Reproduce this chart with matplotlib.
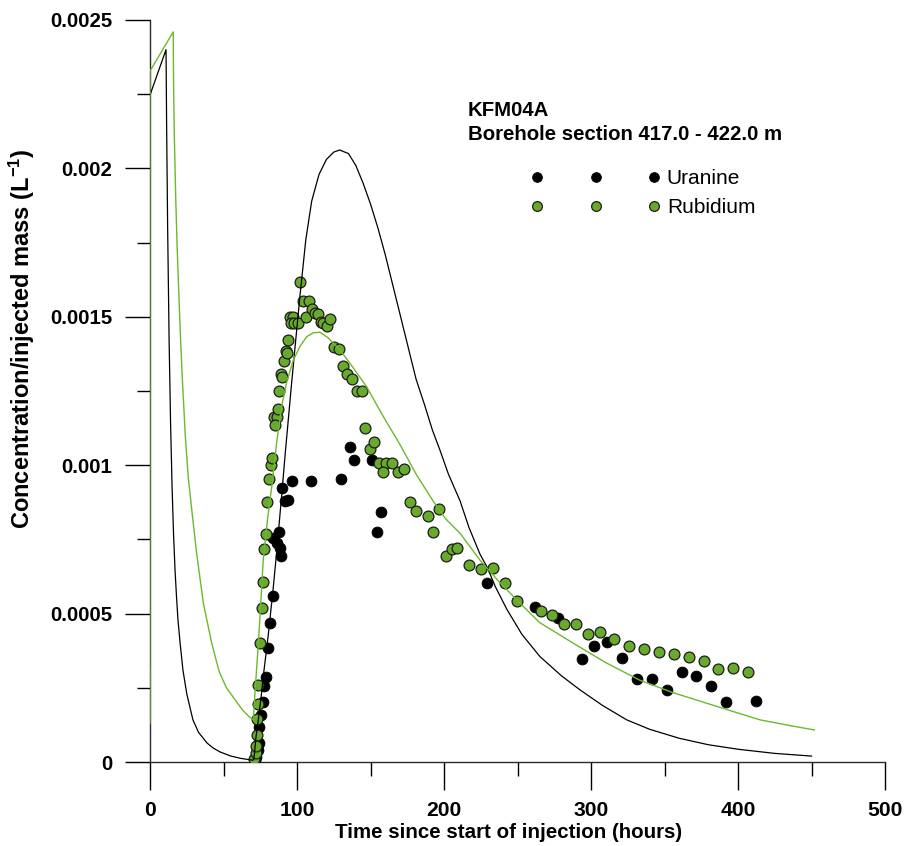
import numpy as np
import matplotlib
matplotlib.use('Agg')
import matplotlib.pyplot as plt

plt.rcParams['font.family'] = ['Liberation Sans', 'DejaVu Sans']
plt.rcParams['mathtext.fontset'] = 'custom'
plt.rcParams['mathtext.bf'] = 'Liberation Sans:bold'
plt.rcParams['mathtext.rm'] = 'Liberation Sans:bold'
plt.rcParams['mathtext.default'] = 'bf'

GREEN = '#68ab2c'
LINE_GREEN = '#6cb92e'

# model curves, time (h) and concentration (1e-3 L^-1)
t_mod_uran = [0, 0, 10.9, 11.3, 12.0, 13.0, 14.0, 15.0, 16.0, 17.0, 18.0, 19.0, 20.5,
              22.4, 25.0, 29.2, 33.0, 38.8, 43.0, 47.6, 55.0, 62.0, 70.0,
              70.7, 72.0, 73.7, 75.5, 77.1, 80.5, 83.9, 86.2, 89.6, 92.0, 96.4, 102.0,
              106.0, 110.0, 115.0, 120.0, 125.0, 129.0, 135.0, 140.0, 145.0, 150.0,
              155.0, 160.0, 165.0, 170.0, 175.0, 181.0, 187.0, 192.0, 197.3, 203.0,
              210.9, 217.0, 224.5, 229.5, 235.0, 242.7, 253.0, 265.3, 280.0, 292.5,
              308.0, 324.3, 340.0, 360.0, 380.0, 400.0, 425.0, 450.0]
c_mod_uran = [0.32, 2.247, 2.40, 2.15, 1.80, 1.42, 1.14, 0.93, 0.77, 0.65, 0.56, 0.48, 0.40,
              0.31, 0.23, 0.142, 0.10, 0.064, 0.047, 0.034, 0.020, 0.012, 0.006,
              0.010, 0.08, 0.142, 0.215, 0.29, 0.43, 0.59, 0.71, 0.90, 1.04, 1.28, 1.57,
              1.76, 1.89, 1.98, 2.03, 2.055, 2.062, 2.05, 2.01, 1.95, 1.88,
              1.80, 1.71, 1.61, 1.51, 1.41, 1.29, 1.20, 1.12, 1.05, 0.97,
              0.88, 0.79, 0.70, 0.655, 0.59, 0.515, 0.43, 0.355, 0.29, 0.243,
              0.19, 0.142, 0.11, 0.08, 0.058, 0.043, 0.029, 0.02]

t_mod_rb = [0, 0, 15.8, 16.0, 16.5, 17.5, 18.5, 19.3, 20.5, 22.0, 24.0, 26.0, 28.4,
            31.8, 36.3, 42.0, 47.1, 52.0, 57.8, 63.0, 68.0, 70.3,
            71.4, 73.7, 75.5, 77.0, 80.0, 82.8, 86.0, 89.6, 93.0, 97.5, 102.0, 106.6,
            111.0, 115.6, 121.0, 129.3, 138.0, 147.4, 158.0, 170.0, 181.0, 192.5,
            201.0, 211.0, 224.5, 237.0, 249.5, 265.0, 288.0, 310.0, 333.0, 355.0,
            378.7, 400.0, 415.0, 435.0, 452.0]
c_mod_rb = [0.13, 2.328, 2.46, 2.30, 2.12, 1.90, 1.73, 1.62, 1.46, 1.29, 1.10, 0.96, 0.85,
            0.70, 0.535, 0.40, 0.304, 0.25, 0.21, 0.175, 0.15, 0.142,
            0.231, 0.40, 0.546, 0.68, 0.82, 0.927, 1.07, 1.20, 1.28, 1.354, 1.40, 1.433,
            1.446, 1.448, 1.43, 1.388, 1.33, 1.264, 1.17, 1.07, 0.97, 0.88,
            0.82, 0.77, 0.68, 0.61, 0.546, 0.47, 0.40, 0.335, 0.276, 0.235,
            0.198, 0.165, 0.142, 0.123, 0.108]

# measured data
t_uran = [71.4, 72.1, 73.3, 74.1, 74.4, 75.5, 77.1, 77.8, 78.7, 80.5, 81.6, 83.9,
          89.1, 83.9, 86.2, 88.4, 87.8, 89.6, 91.8, 93.9, 96.9, 109.5, 129.9, 136.1,
          139.0, 151.2, 154.2, 157.1, 229.5, 261.9, 277.8, 294.1, 302.0, 311.1, 321.3,
          331.5, 341.5, 351.5, 361.7, 371.6, 381.8, 391.8, 412.0]
c_uran = [0.0067, 0.0179, 0.0404, 0.065, 0.1189, 0.1584, 0.2032, 0.2561, 0.2854, 0.3831,
          0.4693, 0.5593, 0.6941, 0.7537, 0.7369, 0.72, 0.7759, 0.9242, 0.8794, 0.8827,
          0.9468, 0.9451, 0.9525, 1.063, 1.0175, 1.0192, 0.7766, 0.8433, 0.6021, 0.5233,
          0.4842, 0.346, 0.3918, 0.4053, 0.3514, 0.2786, 0.2786, 0.2426, 0.3042, 0.2908,
          0.2571, 0.2011, 0.2065]

t_rb = [70.95, 71.9, 72.1, 72.8, 72.6, 73.3, 73.7, 74.8, 75.9, 77.1, 77.8, 78.9, 79.8,
        81.2, 82.1, 83.2, 84.4, 86.2, 85.0, 87.3, 88.0, 89.1, 90.1, 91.2, 92.3, 93.0,
        94.1, 95.2, 97.1, 95.7, 98.0, 100.5, 102.2, 104.3, 108.2, 106.1, 110.0, 112.2,
        114.5, 116.3, 117.9, 120.2, 122.4, 125.4, 128.6, 131.5, 134.2, 137.6, 140.6,
        144.0, 146.3, 149.7, 152.6, 155.8, 160.5, 164.8, 158.7, 168.9, 172.8, 176.9,
        181.0, 188.9, 192.7, 196.8, 201.2, 205.2, 209.0, 217.2, 225.2, 233.5, 241.5,
        249.5, 265.8, 273.7, 281.8, 289.8, 298.0, 306.1, 315.9, 326.1, 336.3, 346.3,
        356.7, 366.7, 376.7, 386.6, 396.8, 407.0]
c_rb = [0.0091, 0.0314, 0.0539, 0.091, 0.1439, 0.1954, 0.2594, 0.402, 0.5179, 0.6075,
        0.7167, 0.7682, 0.875, 0.9535, 1.0007, 1.0243, 1.1634, 1.1634, 1.1354, 1.1884,
        1.251, 1.3073, 1.2962, 1.3521, 1.3848, 1.377, 1.4218, 1.5003, 1.5003, 1.4781,
        1.4781, 1.4781, 1.6162, 1.5543, 1.5543, 1.5003, 1.5253, 1.5118, 1.5084, 1.4835,
        1.4781, 1.469, 1.4916, 1.3993, 1.3915, 1.3352, 1.3063, 1.2904, 1.251, 1.251,
        1.1243, 1.0546, 1.0792, 1.0084, 1.0084, 1.0084, 0.9781, 0.9761, 0.9862, 0.877,
        0.8457, 0.8288, 0.7739, 0.8524, 0.6941, 0.7177, 0.72, 0.6628, 0.6503, 0.6547,
        0.6021, 0.5425, 0.5088, 0.4953, 0.464, 0.464, 0.4313, 0.439, 0.4134, 0.3908,
        0.3817, 0.3716, 0.3629, 0.3548, 0.3393, 0.3134, 0.3177, 0.3042]

x_ticks = [0, 100, 200, 300, 400, 500]
x_tick_labels = ['0', '100', '200', '300', '400', '500']
y_ticks = [0, 0.0005, 0.001, 0.0015, 0.002, 0.0025]
y_tick_labels = ['0', '0.0005', '0.001', '0.0015', '0.002', '0.0025']

W, H = 911, 846
fig = plt.figure(figsize=(W / 100, H / 100), dpi=100)
ax = fig.add_axes([150 / W, 84 / H, 735 / W, 742 / H])

scale = 1e-3
ax.plot(t_uran, np.array(c_uran) * scale, 'o', ms=7.8, mfc='black', mec='black',
        mew=0.6, label='Uranine', zorder=3)
ax.plot(t_rb, np.array(c_rb) * scale, 'o', ms=7.8, mfc=GREEN, mec='#1c1c1c',
        mew=0.9, label='Rubidium', zorder=4)
ax.plot(t_mod_uran, np.array(c_mod_uran) * scale, color='black', lw=0.9, zorder=5)
ax.plot(t_mod_rb, np.array(c_mod_rb) * scale, color=LINE_GREEN, lw=1.0, zorder=5)

ax.set_xlim(0, 500)
ax.set_ylim(0, 0.0025)
for s in ['top', 'right']:
    ax.spines[s].set_visible(False)
for s in ['left', 'bottom']:
    ax.spines[s].set_color('#2a2a2a')
    ax.spines[s].set_linewidth(1.0)

ax.set_xticks(x_ticks, labels=x_tick_labels)
ax.set_xticks(np.arange(50, 500, 100), minor=True)
ax.set_yticks(y_ticks, labels=y_tick_labels)
ax.set_yticks(np.arange(0.00025, 0.0025, 0.0005), minor=True)
ax.tick_params(axis='x', which='major', direction='out', length=20, width=1, pad=8)
ax.tick_params(axis='x', which='minor', direction='out', length=10, width=1)
ax.tick_params(axis='y', which='major', direction='out', length=18, width=1, pad=9)
ax.tick_params(axis='y', which='minor', direction='out', length=9.4, width=1)
for lab in ax.get_xticklabels():
    lab.set_fontweight('bold')
    lab.set_fontsize(15.2)
for lab in ax.get_yticklabels():
    lab.set_fontweight('bold')
    lab.set_fontsize(14.7)

fig.text(509 / W, 1 - 832 / H, 'Time since start of injection (hours)',
         ha='center', va='center', fontsize=14.8, fontweight='bold')
fig.text(22 / W, 1 - 339 / H, 'Concentration/injected mass (L$^{-1}$)',
         ha='center', va='center', rotation=90, fontsize=17, fontweight='bold')

fig.text(468 / W, 1 - 115.5 / H, 'KFM04A', ha='left', va='baseline',
         fontsize=14.7, fontweight='bold')
fig.text(468 / W, 1 - 140 / H, 'Borehole section 417.0 - 422.0 m', ha='left',
         va='baseline', fontsize=14.7, fontweight='bold')

leg = ax.legend(loc='upper left', bbox_to_anchor=(531 / W, 1 - 169 / H),
                bbox_transform=fig.transFigure, frameon=False, numpoints=3,
                handlelength=6.2, handletextpad=0.32, borderpad=0, borderaxespad=0,
                labelspacing=0.5, markerscale=0.9, fontsize=15)

fig.savefig('out.png', dpi=100)
